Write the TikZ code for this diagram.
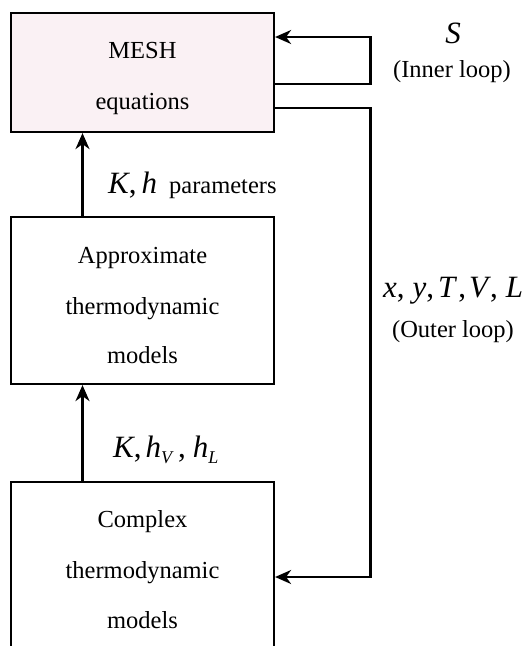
\documentclass[tikz,border=0pt]{standalone}
\usepackage{fontspec}
\setmainfont{Liberation Serif}
\usetikzlibrary{arrows.meta}
\definecolor{meshpink}{RGB}{250,241,244}
\begin{document}
\begin{tikzpicture}[x=1pt,y=-1pt,
  box/.style={draw, line width=2.2pt, minimum width=263pt, inner sep=0pt},
  arr/.style={line width=2.2pt, -{Stealth[length=16pt,width=14pt,inset=5pt]}},
  txt/.style={font=\fontsize{24.5}{30}\selectfont, inner sep=0pt, anchor=base},
  mlab/.style={font=\fontsize{31}{36}\selectfont, inner sep=0pt}]
\useasboundingbox (0,0) rectangle (528,646);
\clip (0,0) rectangle (528,646);
% boxes
\node[box, fill=meshpink, minimum height=119pt] (mesh) at (142.5,72.5) {};
\node[box, minimum height=167pt] (approx) at (142.5,300.5) {};
\node[box, minimum height=198pt] (complex) at (142.5,581) {};
% box texts
\node[txt] (m1) at (142.5,58) {MESH};
\node[txt] (m2) at (142.5,109) {equations};
\node[txt] (a1) at (142.5,263) {Approximate};
\node[txt] (a2) at (142.5,314) {thermodynamic};
\node[txt] (a3) at (142.5,363) {models};
\node[txt] (c1) at (142.5,527) {Complex};
\node[txt] (c2) at (142.5,578) {thermodynamic};
\node[txt] (c3) at (142.5,628) {models};
% vertical arrows
\draw[arr] ([xshift=-60pt]approx.north) -- ([xshift=-60pt]mesh.south);
\draw[arr] ([xshift=-60pt]complex.north) -- ([xshift=-60pt]approx.south);
% loops
\coordinate (loopx) at (370.5,0);
\coordinate (inA) at ([yshift=-11.5pt]mesh.east);
\coordinate (inB) at ([yshift=35.5pt]mesh.east);
\coordinate (outA) at ([yshift=-35.5pt]mesh.east);
\coordinate (outB) at ([yshift=4pt]complex.east);
\draw[arr] (inA) -- (inA -| loopx) -- (inB -| loopx) -- (inB);
\draw[arr] (outA) -- (outA -| loopx) -- (outB -| loopx) -- (outB);
% labels
\node[mlab, anchor=base] (s) at (453,43) {\itshape S};
\node[txt] (inl) at (452,77) {(Inner loop)};
\node[mlab, anchor=base west] (kh) at (108,193) {\itshape K\upshape,\hspace{5pt}\itshape h\hspace{12pt}\upshape\fontsize{24.5}{30}\selectfont parameters};
\node[mlab, anchor=base west] (xy) at (383,297) {\itshape x\upshape,\hspace{8pt}\itshape y\upshape,\hspace{4pt}\itshape T\hspace{3pt}\upshape,\hspace{3pt}\itshape V\hspace{2pt}\upshape,\hspace{8pt}\itshape L};
\node[txt] (outl) at (453,337) {(Outer loop)};
\node[mlab, anchor=base west] (khh) at (113,457) {\itshape K\upshape,\hspace{4pt}\itshape h\raisebox{-6pt}{\fontsize{18}{20}\selectfont V}\hspace{6pt}\upshape,\hspace{7pt}\itshape h\raisebox{-6pt}{\fontsize{18}{20}\selectfont L}};
\end{tikzpicture}
\end{document}
